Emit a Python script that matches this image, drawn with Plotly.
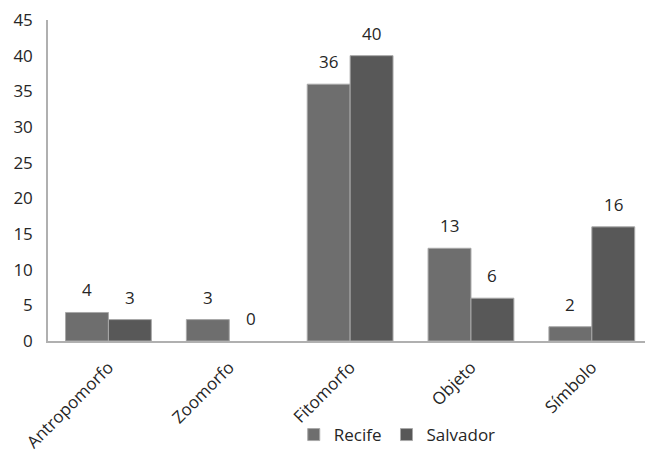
import plotly.graph_objects as go

categories = ["Antropomorfo", "Zoomorfo", "Fitomorfo", "Objeto", "Símbolo"]
recife = [4, 3, 36, 13, 2]
salvador = [3, 0, 40, 6, 16]

FONT = "Open Sans, DejaVu Sans, sans-serif"
TXT = "#262626"

series = [("Recife", recife, "#6e6e6e", -21.5), ("Salvador", salvador, "#585858", 21.5)]

fig = go.Figure()
for name, vals, color, dx in series:
    fig.add_trace(go.Bar(
        name=name, x=categories, y=vals,
        marker=dict(color=color,
                    line=dict(color="#a8a8a8", width=[1 if v > 0 else 0 for v in vals])),
        cliponaxis=False,
    ))
    # value labels above each bar
    for cat, v in zip(categories, vals):
        fig.add_annotation(x=cat, y=v, text=str(v), showarrow=False,
                           xshift=dx, yshift=9, yanchor="bottom",
                           font=dict(family=FONT, size=17, color=TXT))

fig.update_layout(
    width=645, height=453,
    margin=dict(l=48, r=0, t=20, b=112, autoexpand=False),
    paper_bgcolor="white", plot_bgcolor="white",
    barmode="group", bargap=0.29, bargroupgap=0,
    font=dict(family=FONT, size=17, color=TXT),
    showlegend=True,
    legend=dict(orientation="h", x=0.585, xanchor="center",
                yref="container", y=-0.008, yanchor="bottom",
                bgcolor="rgba(0,0,0,0)",
                font=dict(family=FONT, size=17, color=TXT),
                itemwidth=30, traceorder="normal"),
)
fig.update_xaxes(range=[-0.5, 4.44], tickangle=-45, showline=True,
                 linecolor="#b0b0b0", linewidth=1.5,
                 ticks="outside", ticklen=8, tickcolor="rgba(0,0,0,0)",
                 showgrid=False, tickfont=dict(size=17), automargin=False)
fig.update_yaxes(range=[0, 45], dtick=5, showline=True, linecolor="#b0b0b0", linewidth=1.5,
                 ticks="outside", ticklen=10, tickcolor="rgba(0,0,0,0)",
                 showgrid=False, zeroline=False, tickfont=dict(size=17), automargin=False)

fig.write_html("out.html")
